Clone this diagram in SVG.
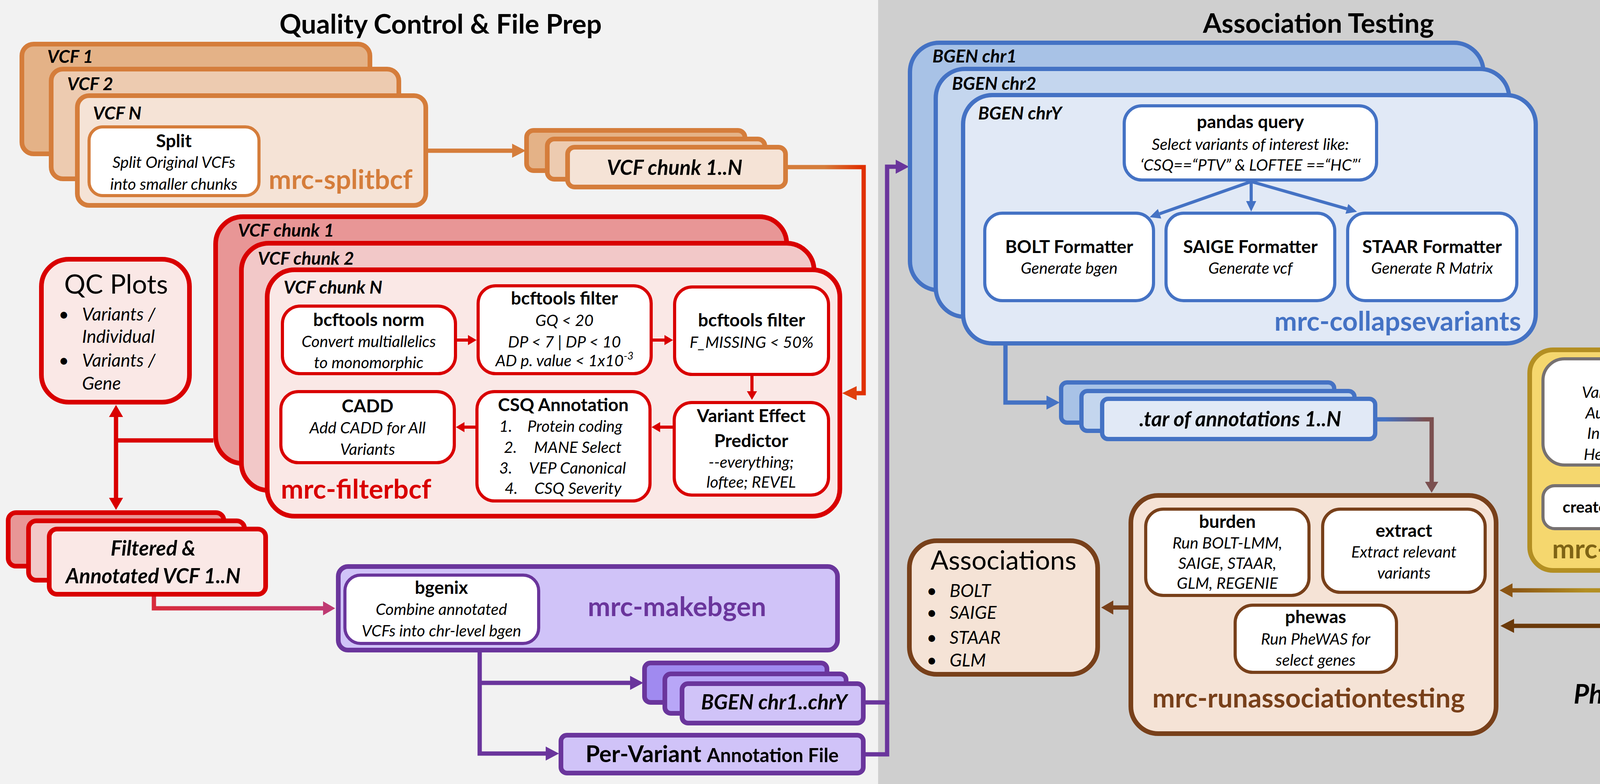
<svg xmlns="http://www.w3.org/2000/svg" width="4487" height="2008" viewBox="0 0 4487 2008">
<defs>
<style>
text{font-family:Lato,"Liberation Sans",sans-serif;fill:#000}
.title{font-weight:700;font-size:69px;text-anchor:middle}
.h{font-weight:700;font-size:46px;text-anchor:middle}
.d{font-style:italic;font-size:41px;text-anchor:middle}
.dl{font-style:italic;font-size:41px;text-anchor:start}
.lab{font-weight:700;font-style:italic;font-size:46px}
.file{font-weight:700;font-style:italic;font-size:53px;text-anchor:middle}
.mod{font-weight:700;font-size:69px;text-anchor:middle}
.big{font-size:68px;text-anchor:middle}
.li{font-style:italic;font-size:46px}
.ib{fill:#fff;stroke-width:8}
.ob{stroke-width:12}
.c{fill:none;stroke-width:11}
.cs{fill:none;stroke-width:8}
</style>
<marker id="aOr" markerUnits="userSpaceOnUse" markerWidth="36" markerHeight="38" refX="0" refY="18" orient="auto" overflow="visible"><path d="M0,0 L35,18 L0,36 Z" fill="#D57D3B"/></marker>
<marker id="aOR" markerUnits="userSpaceOnUse" markerWidth="38" markerHeight="38" refX="0" refY="18" orient="auto" overflow="visible"><path d="M0,0 L37,18 L0,36 Z" fill="#E0400C"/></marker>
<marker id="aRd" markerUnits="userSpaceOnUse" markerWidth="36" markerHeight="38" refX="0" refY="18" orient="auto-start-reverse" overflow="visible"><path d="M0,0 L31,18 L0,36 Z" fill="#D90000"/></marker>
<marker id="aMg" markerUnits="userSpaceOnUse" markerWidth="36" markerHeight="38" refX="0" refY="18" orient="auto" overflow="visible"><path d="M0,0 L31,18 L0,36 Z" fill="#BF3A72"/></marker>
<marker id="aPu" markerUnits="userSpaceOnUse" markerWidth="36" markerHeight="38" refX="0" refY="18" orient="auto" overflow="visible"><path d="M0,0 L34,18 L0,36 Z" fill="#6A359C"/></marker>
<marker id="aBl" markerUnits="userSpaceOnUse" markerWidth="36" markerHeight="38" refX="0" refY="18" orient="auto" overflow="visible"><path d="M0,0 L34,18 L0,36 Z" fill="#4472C4"/></marker>
<marker id="aMv" markerUnits="userSpaceOnUse" markerWidth="36" markerHeight="38" refX="0" refY="17" orient="auto" overflow="visible"><path d="M0,0 L28,17 L0,34 Z" fill="#7B5050"/></marker>
<marker id="aGb" markerUnits="userSpaceOnUse" markerWidth="36" markerHeight="38" refX="0" refY="18" orient="auto" overflow="visible"><path d="M0,0 L33,18 L0,36 Z" fill="#8B5513"/></marker>
<marker id="aPh" markerUnits="userSpaceOnUse" markerWidth="36" markerHeight="38" refX="0" refY="18" orient="auto" overflow="visible"><path d="M0,0 L35,18 L0,36 Z" fill="#6B3A0A"/></marker>
<marker id="aBr" markerUnits="userSpaceOnUse" markerWidth="36" markerHeight="38" refX="0" refY="18" orient="auto" overflow="visible"><path d="M0,0 L31,18 L0,36 Z" fill="#78401A"/></marker>
<marker id="sRd" markerUnits="userSpaceOnUse" markerWidth="24" markerHeight="28" refX="0" refY="13" orient="auto" overflow="visible"><path d="M0,0 L22,13 L0,26 Z" fill="#D90000"/></marker>
<marker id="sBl" markerUnits="userSpaceOnUse" markerWidth="28" markerHeight="28" refX="0" refY="13" orient="auto" overflow="visible"><path d="M0,0 L27,13 L0,26 Z" fill="#4472C4"/></marker>
<marker id="sGy" markerUnits="userSpaceOnUse" markerWidth="24" markerHeight="28" refX="0" refY="13" orient="auto" overflow="visible"><path d="M0,0 L22,13 L0,26 Z" fill="#767171"/></marker>
<linearGradient id="gOR" gradientUnits="userSpaceOnUse" x1="2110" y1="0" x2="2205" y2="0"><stop offset="0" stop-color="#D57D3B"/><stop offset="1" stop-color="#E03000"/></linearGradient>
<linearGradient id="gRM" gradientUnits="userSpaceOnUse" x1="394" y1="0" x2="858" y2="0"><stop offset="0" stop-color="#D82C3C"/><stop offset="1" stop-color="#BF3A72"/></linearGradient>
<linearGradient id="gBM" gradientUnits="userSpaceOnUse" x1="3545" y1="0" x2="3650" y2="0"><stop offset="0" stop-color="#4472C4"/><stop offset="1" stop-color="#7B5050"/></linearGradient>
<linearGradient id="gGB" gradientUnits="userSpaceOnUse" x1="4060" y1="0" x2="3872" y2="0"><stop offset="0" stop-color="#B38F23"/><stop offset="1" stop-color="#8B5513"/></linearGradient>
<linearGradient id="gPh" gradientUnits="userSpaceOnUse" x1="0" y1="1716" x2="0" y2="1603"><stop offset="0" stop-color="#000000"/><stop offset="1" stop-color="#6B3A0A"/></linearGradient>
</defs>

<g id="background">
<rect x="0" y="0" width="2248" height="2008" fill="#F2F2F2"/>
<rect x="2248" y="0" width="2239" height="2008" fill="#CFCFCF"/>
<text class="title" x="1128" y="86">Quality Control &amp; File Prep</text>
<text class="title" x="3375" y="84">Association Testing</text>
</g>

<g id="connectors">
<path class="c" d="M1096,386 H1311" stroke="#D57D3B" marker-end="url(#aOr)"/>
<path class="c" d="M2017,428 H2211 V1007 H2193" stroke="url(#gOR)" stroke-width="12" marker-end="url(#aOR)"/>
<path class="c" d="M546,1128 H292" stroke="#D90000" stroke-width="10"/>
<path class="c" d="M297,1068 V1275" stroke="#D90000" stroke-width="10" marker-start="url(#aRd)" marker-end="url(#aRd)"/>
<path class="c" d="M394,1528 V1558 H827" stroke="url(#gRM)" marker-end="url(#aMg)"/>
<path class="c" d="M1228,1671 V1930 H1397" stroke="#6A359C" marker-end="url(#aPu)"/>
<path class="c" d="M1228,1749 H1613" stroke="#6A359C" marker-end="url(#aPu)"/>
<path class="c" d="M2216,1932 H2271 V1799" stroke="#6A359C"/>
<path class="c" d="M2216,1799 H2271 V427 H2293" stroke="#6A359C" marker-end="url(#aPu)"/>
<path class="c" d="M2574,879 V1031 H2679" stroke="#4472C4" marker-end="url(#aBl)"/>
<path class="c" d="M3526,1074 H3665 V1234" stroke="url(#gBM)" marker-end="url(#aMv)"/>
<path class="c" d="M4183,1467 V1512 H3872" stroke="url(#gGB)" marker-end="url(#aGb)"/>
<path class="c" d="M4186,1716 V1603 H3876" stroke="url(#gPh)" stroke-width="12" marker-end="url(#aPh)"/>
<path class="c" d="M2889,1556 H2850" stroke="#78401A" marker-end="url(#aBr)"/>
</g>

<g id="mrc-splitbcf">
<rect class="ob" x="56" y="113" width="891" height="281" rx="30" fill="#E4B287" stroke="#D57D3B"/>
<rect class="ob" x="131" y="177" width="890" height="281" rx="30" fill="#EDCBB0" stroke="#D57D3B"/>
<rect class="ob" x="198" y="245" width="892" height="281" rx="30" fill="#F5E3D6" stroke="#D57D3B"/>
<text class="lab" x="121" y="161">VCF 1</text>
<text class="lab" x="172" y="231">VCF 2</text>
<text class="lab" x="238" y="306">VCF N</text>
<rect class="ib" x="228" y="325" width="435" height="176" rx="35" stroke="#D57D3B" stroke-width="7"/>
<text class="h" x="445" y="377">Split</text>
<text class="d" x="445" y="430">Split Original VCFs</text>
<text class="d" x="445" y="486">into smaller chunks</text>
<text class="mod" x="872" y="484" style="fill:#D57D3B">mrc-splitbcf</text>
</g>

<g id="vcf-chunks">
<rect class="ob" x="1348" y="334" width="559" height="103" rx="18" fill="#E4B287" stroke="#D57D3B"/>
<rect class="ob" x="1401" y="356" width="557" height="103" rx="18" fill="#EDCBB0" stroke="#D57D3B"/>
<rect class="ob" x="1453" y="377" width="558" height="102" rx="18" fill="#F5E3D6" stroke="#D57D3B"/>
<text class="file" x="1727" y="448">VCF chunk 1..N</text>
</g>

<g id="mrc-filterbcf">
<rect class="ob" x="552" y="555" width="1462" height="632" rx="70" fill="#E89696" stroke="#D90000"/>
<rect class="ob" x="618" y="623" width="1466" height="633" rx="70" fill="#F2C8C8" stroke="#D90000"/>
<rect class="ob" x="684" y="691" width="1466" height="631" rx="70" fill="#FAE8E6" stroke="#D90000"/>
<text class="lab" x="609" y="606">VCF chunk 1</text>
<text class="lab" x="660" y="678">VCF chunk 2</text>
<text class="lab" x="726" y="752">VCF chunk N</text>
<g id="bcftools-norm">
<rect class="ib" x="723" y="784" width="443" height="173" rx="45" stroke="#D90000"/>
<text class="h" x="944" y="835">bcftools norm</text>
<text class="d" x="944" y="889">Convert multiallelics</text>
<text class="d" x="944" y="943">to monomorphic</text>
</g>
<g id="bcftools-filter-1">
<rect class="ib" x="1224" y="732" width="443" height="225" rx="45" stroke="#D90000"/>
<text class="h" x="1445" y="780">bcftools filter</text>
<text class="d" x="1445" y="835">GQ &lt; 20</text>
<text class="d" x="1445" y="890">DP &lt; 7 | DP &lt; 10</text>
<text class="d" x="1445" y="938">AD p. value &lt; 1x10<tspan font-size="27" dy="-17">-3</tspan></text>
</g>
<g id="bcftools-filter-2">
<rect class="ib" x="1727" y="735" width="394" height="224" rx="45" stroke="#D90000"/>
<text class="h" x="1924" y="836">bcftools filter</text>
<text class="d" x="1924" y="891">F_MISSING &lt; 50%</text>
</g>
<g id="vep">
<rect class="ib" x="1726" y="1031" width="395" height="237" rx="45" stroke="#D90000"/>
<text class="h" x="1923" y="1081">Variant Effect</text>
<text class="h" x="1923" y="1145">Predictor</text>
<text class="d" x="1923" y="1198">--everything;</text>
<text class="d" x="1923" y="1249">loftee; REVEL</text>
</g>
<g id="csq">
<rect class="ib" x="1221" y="1003" width="443" height="280" rx="45" stroke="#D90000"/>
<text class="h" x="1442" y="1053">CSQ Annotation</text>
<text class="dl" x="1278" y="1106">1.</text>
<text class="dl" x="1350" y="1106">Protein coding</text>
<text class="dl" x="1290" y="1160">2.</text>
<text class="dl" x="1367" y="1160">MANE Select</text>
<text class="dl" x="1278" y="1213">3.</text>
<text class="dl" x="1354" y="1213">VEP Canonical</text>
<text class="dl" x="1292" y="1265">4.</text>
<text class="dl" x="1368" y="1265">CSQ Severity</text>
</g>
<g id="cadd">
<rect class="ib" x="719" y="1003" width="444" height="182" rx="45" stroke="#D90000"/>
<text class="h" x="941" y="1056">CADD</text>
<text class="d" x="941" y="1110">Add CADD for All</text>
<text class="d" x="941" y="1165">Variants</text>
</g>
<path class="cs" d="M1170,871 H1198" stroke="#D90000" marker-end="url(#sRd)"/>
<path class="cs" d="M1671,871 H1701" stroke="#D90000" marker-end="url(#sRd)"/>
<path class="cs" d="M1925,963 V1002" stroke="#D90000" marker-end="url(#sRd)"/>
<path class="cs" d="M1722,1094 H1690" stroke="#D90000" marker-end="url(#sRd)"/>
<path class="cs" d="M1217,1094 H1189" stroke="#D90000" marker-end="url(#sRd)"/>
<text class="mod" x="719" y="1277" style="fill:#D90000;text-anchor:start">mrc-filterbcf</text>
</g>

<g id="qc-plots">
<rect class="ob" x="106" y="664" width="379" height="366" rx="70" fill="#FAE8E6" stroke="#D90000"/>
<text class="big" x="297" y="752">QC Plots</text>
<text class="li" x="150" y="821">•</text>
<text class="li" x="210" y="821">Variants /</text>
<text class="li" x="210" y="878">Individual</text>
<text class="li" x="150" y="939">•</text>
<text class="li" x="210" y="939">Variants /</text>
<text class="li" x="210" y="998">Gene</text>
</g>

<g id="filtered-annotated-vcf">
<rect class="ob" x="21" y="1313" width="552" height="137" rx="20" fill="#E89696" stroke="#D90000"/>
<rect class="ob" x="73" y="1334" width="553" height="152" rx="20" fill="#F2C8C8" stroke="#D90000"/>
<rect class="ob" x="126" y="1355" width="554" height="167" rx="20" fill="#FAE8E6" stroke="#D90000"/>
<text class="file" x="392" y="1423">Filtered &amp;</text>
<text class="file" x="392" y="1494">Annotated VCF 1..N</text>
</g>

<g id="mrc-makebgen">
<rect class="ob" x="866" y="1451" width="1278" height="214" rx="25" fill="#D0C3F8" stroke="#6A359C"/>
<rect class="ib" x="883" y="1473" width="496" height="175" rx="40" stroke="#6A359C" stroke-width="7"/>
<text class="h" x="1130" y="1521">bgenix</text>
<text class="d" x="1130" y="1575">Combine annotated</text>
<text class="d" x="1130" y="1630">VCFs into chr-level bgen</text>
<text class="mod" x="1733" y="1578" style="fill:#6A359C">mrc-makebgen</text>
</g>

<g id="bgen-files">
<rect class="ob" x="1650" y="1698" width="467" height="101" rx="15" fill="#A08AF0" stroke="#6A359C"/>
<rect class="ob" x="1702" y="1726" width="464" height="101" rx="15" fill="#B8A6F7" stroke="#6A359C"/>
<rect class="ob" x="1746" y="1751" width="464" height="101" rx="15" fill="#D0C3F8" stroke="#6A359C"/>
<text class="file" x="1982" y="1817">BGEN chr1..chrY</text>
</g>

<g id="per-variant-annotation-file">
<rect class="ob" x="1436" y="1883" width="774" height="97" rx="15" fill="#D0C3F8" stroke="#6A359C"/>
<text x="1823" y="1952" style="font-weight:700;font-size:59px;text-anchor:middle">Per-Variant <tspan font-size="49">Annotation File</tspan></text>
</g>

<g id="mrc-collapsevariants">
<rect x="2329.5" y="109.5" width="1468" height="634" rx="75" fill="#A8C2E6" stroke="#4472C4" stroke-width="11"/>
<rect x="2395.5" y="176.5" width="1468" height="635" rx="75" fill="#C4D6EE" stroke="#4472C4" stroke-width="11"/>
<rect x="2465.5" y="243.5" width="1466" height="636" rx="75" fill="#E1E9F6" stroke="#4472C4" stroke-width="11"/>
<text class="lab" x="2387" y="160">BGEN chr1</text>
<text class="lab" x="2437" y="230">BGEN chr2</text>
<text class="lab" x="2504" y="306">BGEN chrY</text>
<g id="pandas-query">
<rect class="ib" x="2878" y="271" width="646" height="190" rx="45" stroke="#4472C4" stroke-width="7"/>
<text class="h" x="3201" y="328">pandas query</text>
<text class="d" x="3201" y="384">Select variants of interest like:</text>
<text class="d" x="3201" y="437">‘CSQ==“PTV” &amp; LOFTEE ==“HC”‘</text>
</g>
<g id="bolt-formatter">
<rect class="ib" x="2521" y="546" width="432" height="224" rx="45" stroke="#4472C4" stroke-width="7"/>
<text class="h" x="2737" y="648">BOLT Formatter</text>
<text class="d" x="2737" y="701">Generate bgen</text>
</g>
<g id="saige-formatter">
<rect class="ib" x="2985" y="546" width="432" height="224" rx="45" stroke="#4472C4" stroke-width="7"/>
<text class="h" x="3201" y="648">SAIGE Formatter</text>
<text class="d" x="3201" y="701">Generate vcf</text>
</g>
<g id="staar-formatter">
<rect class="ib" x="3450" y="546" width="433" height="224" rx="45" stroke="#4472C4" stroke-width="7"/>
<text class="h" x="3666" y="648">STAAR Formatter</text>
<text class="d" x="3666" y="701">Generate R Matrix</text>
</g>
<path class="cs" d="M3203,465 L2968.5,547.4" stroke="#4472C4" marker-end="url(#sBl)"/>
<path class="cs" d="M3203,465 V515" stroke="#4472C4" marker-end="url(#sBl)"/>
<path class="cs" d="M3203,465 L3448,534.9" stroke="#4472C4" marker-end="url(#sBl)"/>
<text class="mod" x="3894" y="847" style="fill:#4472C4;text-anchor:end">mrc-collapsevariants</text>
</g>

<g id="tar-annotations">
<rect x="2716.5" y="979.5" width="699" height="103" rx="15" fill="#A8C2E6" stroke="#4472C4" stroke-width="11"/>
<rect x="2768.5" y="1001.5" width="699" height="102" rx="15" fill="#C4D6EE" stroke="#4472C4" stroke-width="11"/>
<rect x="2821.5" y="1021.5" width="699" height="103" rx="15" fill="#E1E9F6" stroke="#4472C4" stroke-width="11"/>
<text class="file" x="3175" y="1092">.tar of annotations 1..N</text>
</g>

<g id="mrc-buildgrm">
<rect class="ob" x="3916" y="896" width="531" height="565" rx="60" fill="#F5D76E" stroke="#B38F23"/>
<rect class="ib" x="3950" y="919" width="465" height="272" rx="55" stroke="#767171"/>
<text class="h" x="4182" y="965">plink2</text>
<text class="d" x="4182" y="1019">Var miss &lt; 0.05</text>
<text class="d" x="4182" y="1072">Autosomal = T</text>
<text class="d" x="4182" y="1124">In phasing = T</text>
<text class="d" x="4182" y="1178">Het. outlier = F</text>
<path class="cs" d="M4183,1195 V1215" stroke="#767171" stroke-width="7" marker-end="url(#sGy)"/>
<rect class="ib" x="3950" y="1244" width="465" height="110" rx="30" stroke="#767171"/>
<text class="h" x="4183" y="1313" style="font-size:41px">createSparseGRM.R</text>
<text class="mod" x="4180" y="1430" style="fill:#7F6415">mrc-buildgrm</text>
</g>

<g id="phenotype">
<text x="4183" y="1802" style="font-weight:700;font-style:italic;font-size:68px;text-anchor:middle">Phenotype</text>
</g>

<g id="mrc-runassociationtesting">
<rect class="ob" x="2895" y="1269" width="935" height="610" rx="70" fill="#F5E3D6" stroke="#78401A"/>
<g id="burden">
<rect class="ib" x="2933" y="1304" width="418" height="221" rx="45" stroke="#78401A"/>
<text class="h" x="3142" y="1352">burden</text>
<text class="d" x="3142" y="1405">Run BOLT-LMM,</text>
<text class="d" x="3142" y="1457">SAIGE, STAAR,</text>
<text class="d" x="3142" y="1508">GLM, REGENIE</text>
</g>
<g id="extract">
<rect class="ib" x="3386" y="1304" width="416" height="213" rx="45" stroke="#78401A"/>
<text class="h" x="3594" y="1375">extract</text>
<text class="d" x="3594" y="1428">Extract relevant</text>
<text class="d" x="3594" y="1482">variants</text>
</g>
<g id="phewas">
<rect class="ib" x="3162" y="1550" width="413" height="172" rx="45" stroke="#78401A"/>
<text class="h" x="3368" y="1596">phewas</text>
<text class="d" x="3368" y="1651">Run PheWAS for</text>
<text class="d" x="3368" y="1705">select genes</text>
</g>
<text class="mod" x="3350" y="1812" style="fill:#78401A">mrc-runassociationtesting</text>
</g>

<g id="associations">
<rect class="ob" x="2328" y="1385" width="482" height="342" rx="70" fill="#F5E3D6" stroke="#78401A"/>
<text class="big" x="2569" y="1459">Associations</text>
<text class="li" x="2372" y="1529">•</text>
<text class="li" x="2431" y="1529">BOLT</text>
<text class="li" x="2372" y="1585">•</text>
<text class="li" x="2431" y="1585">SAIGE</text>
<text class="li" x="2372" y="1649">•</text>
<text class="li" x="2431" y="1649">STAAR</text>
<text class="li" x="2372" y="1707">•</text>
<text class="li" x="2431" y="1707">GLM</text>
</g>
</svg>
